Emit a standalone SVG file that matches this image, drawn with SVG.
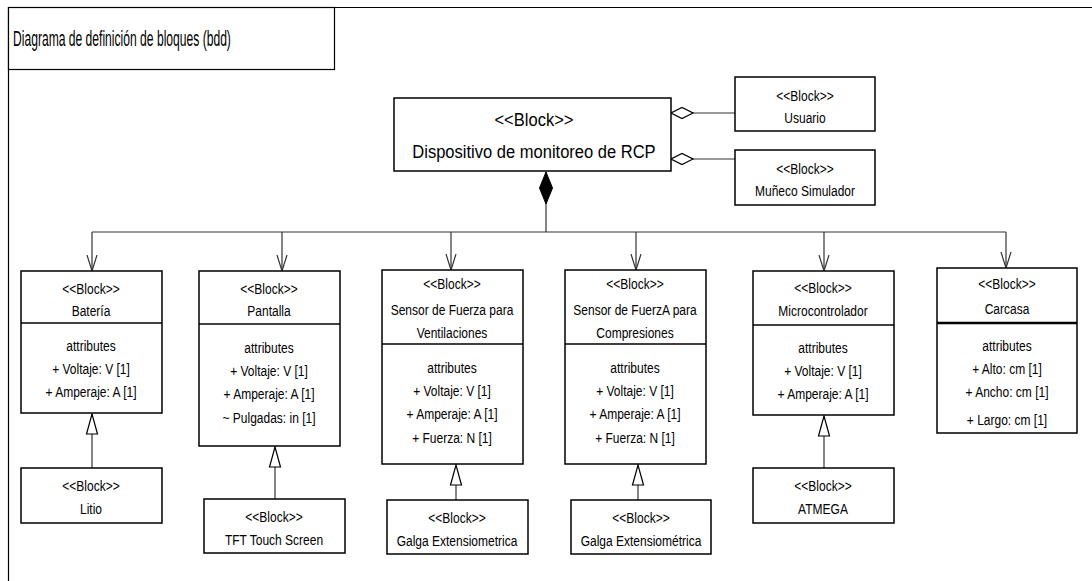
<svg xmlns="http://www.w3.org/2000/svg" width="1092" height="581" viewBox="0 0 1092 581">
  <style>
    text { font-family: "Liberation Sans", Arial, sans-serif; fill: #000; text-anchor: middle; }
    .box { fill: #fff; stroke: #000; stroke-width: 1.5; }
    .div { stroke: #000; stroke-width: 1.5; }
    .s { font-size: 15px; }
    .m { font-size: 19px; }
    .t { font-size: 22px; text-anchor: start; }
    .wire { fill: none; stroke: #333; stroke-width: 1.2; }
    .frame { fill: none; stroke: #000; stroke-width: 1.2; }
  </style>
  <defs>
    <marker id="open" markerUnits="userSpaceOnUse" viewBox="0 0 16 12" refX="16" refY="6" markerWidth="16" markerHeight="12" orient="auto">
      <path d="M0,1 L16,6 L0,11" fill="none" stroke="#333" stroke-width="1.2"/>
    </marker>
    <marker id="gen" markerUnits="userSpaceOnUse" viewBox="0 0 22 14" refX="21" refY="7" markerWidth="22" markerHeight="14" orient="auto">
      <path d="M1,1.5 L21,7 L1,12.5 Z" fill="#fff" stroke="#000" stroke-width="1.2"/>
    </marker>
    <marker id="comp" markerUnits="userSpaceOnUse" viewBox="0 0 34 16" refX="33" refY="8" markerWidth="34" markerHeight="16" orient="auto">
      <path d="M1,8 L17,1.5 L33,8 L17,14.5 Z" fill="#000" stroke="#000" stroke-width="1"/>
    </marker>
    <marker id="agg" markerUnits="userSpaceOnUse" viewBox="0 0 24 14" refX="23" refY="7" markerWidth="24" markerHeight="14" orient="auto">
      <path d="M1,7 L12,1.5 L23,7 L12,12.5 Z" fill="#fff" stroke="#000" stroke-width="1.2"/>
    </marker>
  </defs>

  <!-- diagram frame and heading; labels are condensed horizontally around their centre -->
  <g id="frame">
    <path class="frame" d="M8.5,581 L8.5,7.5 L1092,7.5"/>
    <rect class="box" x="8.5" y="7.5" width="326" height="62" style="stroke-width:1.2"/>
    <g transform="matrix(0.55 0 0 1 5.85 0)">
      <text class="t" x="13" y="46">Diagrama de definición de bloques (bdd)</text>
    </g>
  </g>

  <!-- connectors -->
  <g id="connectors">
    <!-- composition from the device down to the bus -->
    <path class="wire" d="M546,232 L546,172" marker-end="url(#comp)"/>
    <path class="wire" d="M92,232 L1006,232"/>
    <path class="wire" d="M92,232 L92,271" marker-end="url(#open)"/>
    <path class="wire" d="M282,232 L282,271" marker-end="url(#open)"/>
    <path class="wire" d="M451,232 L451,270" marker-end="url(#open)"/>
    <path class="wire" d="M636,232 L636,270" marker-end="url(#open)"/>
    <path class="wire" d="M824,232 L824,271" marker-end="url(#open)"/>
    <path class="wire" d="M1006,232 L1006,268" marker-end="url(#open)"/>
    <!-- shared aggregations -->
    <path class="wire" d="M735,113 L671,113" marker-end="url(#agg)"/>
    <path class="wire" d="M735,159 L671,159" marker-end="url(#agg)"/>
    <!-- generalizations -->
    <path class="wire" d="M92,468 L92,414" marker-end="url(#gen)"/>
    <path class="wire" d="M275,499 L275,447" marker-end="url(#gen)"/>
    <path class="wire" d="M456,500 L456,465" marker-end="url(#gen)"/>
    <path class="wire" d="M638,500 L638,465" marker-end="url(#gen)"/>
    <path class="wire" d="M824,468 L824,416" marker-end="url(#gen)"/>
  </g>

  <g id="dispositivo">
    <rect class="box" x="394" y="98" width="277" height="73"/>
    <g transform="matrix(0.87 0 0 1 69.4 0)">
      <text class="m" x="534" y="126">&lt;&lt;Block&gt;&gt;</text>
      <text class="m" x="534" y="158">Dispositivo de monitoreo de RCP</text>
    </g>
  </g>

  <g id="usuario">
    <rect class="box" x="735" y="77" width="140" height="54"/>
    <g transform="matrix(0.8 0 0 1 161 0)">
      <text class="s" x="805" y="101">&lt;&lt;Block&gt;&gt;</text>
      <text class="s" x="805" y="123">Usuario</text>
    </g>
  </g>

  <g id="muneco">
    <rect class="box" x="735" y="150" width="140" height="55"/>
    <g transform="matrix(0.8 0 0 1 161 0)">
      <text class="s" x="805" y="174">&lt;&lt;Block&gt;&gt;</text>
      <text class="s" x="805" y="196">Muñeco Simulador</text>
    </g>
  </g>

  <g id="bateria">
    <rect class="box" x="21" y="271" width="141" height="142"/>
    <line class="div" x1="21" y1="323" x2="162" y2="323"/>
    <g transform="matrix(0.8 0 0 1 18.2 0)">
      <text class="s" x="91" y="294">&lt;&lt;Block&gt;&gt;</text>
      <text class="s" x="91" y="316">Batería</text>
      <text class="s" x="91" y="351">attributes</text>
      <text class="s" x="91" y="374">+ Voltaje: V [1]</text>
      <text class="s" x="91" y="397">+ Amperaje: A [1]</text>
    </g>
  </g>

  <g id="pantalla">
    <rect class="box" x="199" y="271" width="141" height="175"/>
    <line class="div" x1="199" y1="324" x2="340" y2="324"/>
    <g transform="matrix(0.8 0 0 1 53.8 0)">
      <text class="s" x="269" y="294">&lt;&lt;Block&gt;&gt;</text>
      <text class="s" x="269" y="316">Pantalla</text>
      <text class="s" x="269" y="353">attributes</text>
      <text class="s" x="269" y="376">+ Voltaje: V [1]</text>
      <text class="s" x="269" y="399">+ Amperaje: A [1]</text>
      <text class="s" x="269" y="423">~ Pulgadas: in [1]</text>
    </g>
  </g>

  <g id="sensor-ventilaciones">
    <rect class="box" x="382" y="270" width="141" height="194"/>
    <line class="div" x1="382" y1="344" x2="523" y2="344"/>
    <g transform="matrix(0.8 0 0 1 90.4 0)">
      <text class="s" x="452" y="289">&lt;&lt;Block&gt;&gt;</text>
      <text class="s" x="452" y="315">Sensor de Fuerza para</text>
      <text class="s" x="452" y="338">Ventilaciones</text>
      <text class="s" x="452" y="373">attributes</text>
      <text class="s" x="452" y="396">+ Voltaje: V [1]</text>
      <text class="s" x="452" y="419">+ Amperaje: A [1]</text>
      <text class="s" x="452" y="443">+ Fuerza: N [1]</text>
    </g>
  </g>

  <g id="sensor-compresiones">
    <rect class="box" x="565" y="270" width="141" height="194"/>
    <line class="div" x1="565" y1="344" x2="706" y2="344"/>
    <g transform="matrix(0.8 0 0 1 127 0)">
      <text class="s" x="635" y="289">&lt;&lt;Block&gt;&gt;</text>
      <text class="s" x="635" y="315">Sensor de FuerzA para</text>
      <text class="s" x="635" y="338">Compresiones</text>
      <text class="s" x="635" y="373">attributes</text>
      <text class="s" x="635" y="396">+ Voltaje: V [1]</text>
      <text class="s" x="635" y="419">+ Amperaje: A [1]</text>
      <text class="s" x="635" y="443">+ Fuerza: N [1]</text>
    </g>
  </g>

  <g id="microcontrolador">
    <rect class="box" x="753" y="271" width="141" height="144"/>
    <line class="div" x1="753" y1="325" x2="894" y2="325"/>
    <g transform="matrix(0.8 0 0 1 164.6 0)">
      <text class="s" x="823" y="293">&lt;&lt;Block&gt;&gt;</text>
      <text class="s" x="823" y="316">Microcontrolador</text>
      <text class="s" x="823" y="353">attributes</text>
      <text class="s" x="823" y="376">+ Voltaje: V [1]</text>
      <text class="s" x="823" y="399">+ Amperaje: A [1]</text>
    </g>
  </g>

  <g id="carcasa">
    <rect class="box" x="937" y="268" width="140" height="165"/>
    <line class="div" x1="937" y1="323" x2="1077" y2="323" style="stroke-width:2.5"/>
    <g transform="matrix(0.8 0 0 1 201.4 0)">
      <text class="s" x="1007" y="289">&lt;&lt;Block&gt;&gt;</text>
      <text class="s" x="1007" y="314">Carcasa</text>
      <text class="s" x="1007" y="351">attributes</text>
      <text class="s" x="1007" y="374">+ Alto: cm [1]</text>
      <text class="s" x="1007" y="397">+ Ancho: cm [1]</text>
      <text class="s" x="1007" y="425">+ Largo: cm [1]</text>
    </g>
  </g>

  <g id="litio">
    <rect class="box" x="21" y="468" width="141" height="55"/>
    <g transform="matrix(0.8 0 0 1 18.2 0)">
      <text class="s" x="91" y="491">&lt;&lt;Block&gt;&gt;</text>
      <text class="s" x="91" y="514">Litio</text>
    </g>
  </g>

  <g id="tft">
    <rect class="box" x="204" y="499" width="141" height="54"/>
    <g transform="matrix(0.8 0 0 1 54.8 0)">
      <text class="s" x="274" y="522">&lt;&lt;Block&gt;&gt;</text>
      <text class="s" x="274" y="545">TFT Touch Screen</text>
    </g>
  </g>

  <g id="galga-1">
    <rect class="box" x="387" y="500" width="141" height="54"/>
    <g transform="matrix(0.8 0 0 1 91.4 0)">
      <text class="s" x="457" y="523">&lt;&lt;Block&gt;&gt;</text>
      <text class="s" x="457" y="546">Galga Extensiometrica</text>
    </g>
  </g>

  <g id="galga-2">
    <rect class="box" x="571" y="500" width="140" height="54"/>
    <g transform="matrix(0.8 0 0 1 128.2 0)">
      <text class="s" x="641" y="523">&lt;&lt;Block&gt;&gt;</text>
      <text class="s" x="641" y="546">Galga Extensiométrica</text>
    </g>
  </g>

  <g id="atmega">
    <rect class="box" x="753" y="468" width="141" height="55"/>
    <g transform="matrix(0.8 0 0 1 164.6 0)">
      <text class="s" x="823" y="491">&lt;&lt;Block&gt;&gt;</text>
      <text class="s" x="823" y="514">ATMEGA</text>
    </g>
  </g>
</svg>
